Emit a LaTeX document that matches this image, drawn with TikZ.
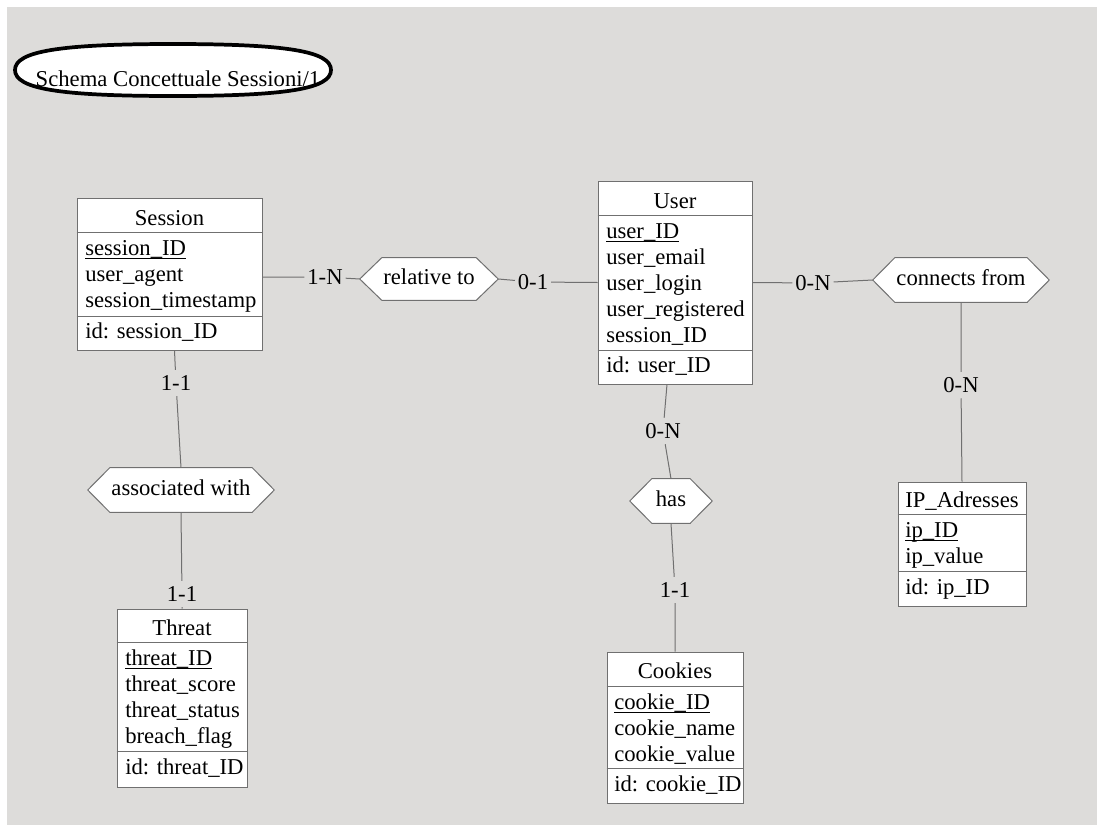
\documentclass[tikz,border=0pt]{standalone}
\usepackage{fontspec}
\setmainfont{Liberation Serif}
\usetikzlibrary{calc,fit}

\definecolor{canvas}{RGB}{221,220,218}
\definecolor{edgegray}{RGB}{112,112,112}

% underlined key attribute, rule set at underscore level
\newcommand\keyattr[1]{\setbox0=\hbox{#1}\rlap{\rule[-3pt]{\wd0}{0.75pt}}\box0}

\tikzset{
  every node/.style={font=\fontsize{17pt}{19.5pt}\selectfont},
  entity/.style={draw=edgegray, fill=white, line width=0.75pt, inner sep=0pt},
  sepline/.style={draw=edgegray, line width=0.75pt},
  attr/.style={anchor=base west, inner sep=0pt},
  ename/.style={anchor=base, inner sep=0pt},
  relframe/.style={inner sep=0pt},
  hexa/.style={draw=edgegray, fill=white, line width=0.75pt},
  card/.style={inner xsep=2pt, inner ysep=4pt},
  link/.style={draw=edgegray, line width=0.75pt},
  titlering/.style={draw=black, fill=white, line width=2.8pt},
}

% hexagonal relationship outline built on a named frame node
\newcommand\hexof[1]{%
  \filldraw[hexa] (#1.west) -- ($(#1.north west)+(22,0)$) -- ($(#1.north east)+(-22,0)$)
    -- (#1.east) -- ($(#1.south east)+(-22,0)$) -- ($(#1.south west)+(22,0)$) -- cycle;}

\begin{document}
\begin{tikzpicture}[x=0.75pt,y=-0.75pt]
\useasboundingbox (0,0) rectangle (1097,825);
\fill[white] (0,0) rectangle (1097,825);
\fill[canvas] (7,7) rectangle (1097,825);

% schema title in a blunt-ended oval
\filldraw[titlering] (15,70)
  .. controls (15,51.3) and (59.2,44) .. (173,44)
  .. controls (286.8,44) and (331,51.3) .. (331,70)
  .. controls (331,88.7) and (286.8,96) .. (173,96)
  .. controls (59.2,96) and (15,88.7) .. (15,70) -- cycle;
\node[ename] (title) at (178,86) {Schema Concettuale Sessioni/1};

% ---------- entities ----------
% Session
\node[entity, fit={(77,198) (262,350)}] (session) {};
\draw[sepline] ($(session.north west)+(0,35)$) -- ($(session.north east)+(0,35)$);
\draw[sepline] ($(session.north west)+(0,119)$) -- ($(session.north east)+(0,119)$);
\node[ename] (session-name) at (169.5,225) {Session};
\node[attr] (session-a1) at (85,255) {\keyattr{session\_ID}};
\node[attr] (session-a2) at (85,281) {user\_agent};
\node[attr] (session-a3) at (85,307) {session\_timestamp};
\node[attr] (session-id) at (85,338) {id: session\_ID};

% User
\node[entity, fit={(598,181) (752,384)}] (user) {};
\draw[sepline] ($(user.north west)+(0,35)$) -- ($(user.north east)+(0,35)$);
\draw[sepline] ($(user.north west)+(0,170)$) -- ($(user.north east)+(0,170)$);
\node[ename] (user-name) at (675,208) {User};
\node[attr] (user-a1) at (606,238) {\keyattr{user\_ID}};
\node[attr] (user-a2) at (606,264) {user\_email};
\node[attr] (user-a3) at (606,290) {user\_login};
\node[attr] (user-a4) at (606,316) {user\_registered};
\node[attr] (user-a5) at (606,342) {session\_ID};
\node[attr] (user-id) at (606,372) {id: user\_ID};

% Threat
\node[entity, fit={(117,609) (247,787)}] (threat) {};
\draw[sepline] ($(threat.north west)+(0,34)$) -- ($(threat.north east)+(0,34)$);
\draw[sepline] ($(threat.north west)+(0,143)$) -- ($(threat.north east)+(0,143)$);
\node[ename] (threat-name) at (182,635) {Threat};
\node[attr] (threat-a1) at (125,665) {\keyattr{threat\_ID}};
\node[attr] (threat-a2) at (125,691) {threat\_score};
\node[attr] (threat-a3) at (125,717) {threat\_status};
\node[attr] (threat-a4) at (125,743) {breach\_flag};
\node[attr] (threat-id) at (125,774) {id: threat\_ID};

% Cookies
\node[entity, fit={(607,652) (743,803)}] (cookies) {};
\draw[sepline] ($(cookies.north west)+(0,35)$) -- ($(cookies.north east)+(0,35)$);
\draw[sepline] ($(cookies.north west)+(0,117)$) -- ($(cookies.north east)+(0,117)$);
\node[ename] (cookies-name) at (675,678) {Cookies};
\node[attr] (cookies-a1) at (614,709) {\keyattr{cookie\_ID}};
\node[attr] (cookies-a2) at (614,735) {cookie\_name};
\node[attr] (cookies-a3) at (614,761) {cookie\_value};
\node[attr] (cookies-id) at (614,791) {id: cookie\_ID};

% IP_Adresses
\node[entity, fit={(898,482) (1026,606)}] (ip) {};
\draw[sepline] ($(ip.north west)+(0,33)$) -- ($(ip.north east)+(0,33)$);
\draw[sepline] ($(ip.north west)+(0,90)$) -- ($(ip.north east)+(0,90)$);
\node[ename] (ip-name) at (962,507) {IP\_Adresses};
\node[attr] (ip-a1) at (905,537) {\keyattr{ip\_ID}};
\node[attr] (ip-a2) at (905,563) {ip\_value};
\node[attr] (ip-id) at (905,594) {id: ip\_ID};

% ---------- relationships ----------
\node[relframe, fit={(360,258) (498,300)}] (rel) {};
\hexof{rel}
\node[ename] (rel-text) at (429,284) {relative to};

\node[relframe, fit={(873,258) (1049,302)}] (conn) {};
\hexof{conn}
\node[ename] (conn-text) at (961,285) {connects from};

\node[relframe, fit={(88,468) (274,512)}] (assoc) {};
\hexof{assoc}
\node[ename] (assoc-text) at (181,495) {associated with};

\node[relframe, fit={(630,479) (712,523)}] (has) {};
\hexof{has}
\node[ename] (has-text) at (671,506) {has};

% ---------- cardinalities ----------
\node[card] (c1) at (325,277) {1-N};
\node[card] (c2) at (533,282) {0-1};
\node[card] (c3) at (813,283) {0-N};
\node[card] (c4) at (961,385) {0-N};
\node[card] (c5) at (663,431) {0-N};
\node[card] (c6) at (675,590) {1-1};
\node[card] (c7) at (176,383) {1-1};
\node[card] (c8) at (182,594) {1-1};

% ---------- links ----------
\draw[link] (session.east |- c1) -- (c1) -- (rel.west);
\draw[link] (rel.east) -- (c2) -- (user.west);
\draw[link] (user.east) -- (c3) -- (conn.west);
\draw[link] (conn.south) -- (c4) -- (ip.north);
\draw[link] ($(user.south)+(-8,0)$) -- (c5) -- (has.north);
\draw[link] (has.south) -- (c6) -- (cookies.north);
\draw[link] ($(session.south)+(5,0)$) -- (c7) -- (assoc.north);
\draw[link] (assoc.south) -- (c8) -- (threat.north);
\end{tikzpicture}
\end{document}
